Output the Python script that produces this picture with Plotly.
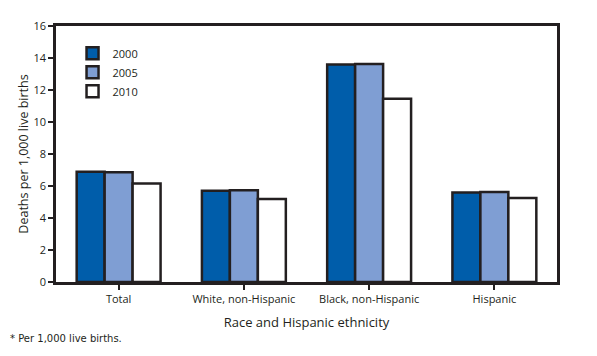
import plotly.graph_objects as go

categories = ["Total", "White, non-Hispanic", "Black, non-Hispanic", "Hispanic"]
years = ["2000", "2005", "2010"]
values_2000 = [6.89, 5.70, 13.59, 5.59]
values_2005 = [6.86, 5.73, 13.63, 5.62]
values_2010 = [6.15, 5.18, 11.46, 5.25]
colors = ["#005DAA", "#7F9ED3", "#FFFFFF"]
y_ticks = [0, 2, 4, 6, 8, 10, 12, 14, 16]

series = [values_2000, values_2005, values_2010]
fig = go.Figure()
for name, vals, col in zip(years, series, colors):
    fig.add_trace(go.Bar(
        x=categories, y=vals, name=name,
        marker=dict(color=col, line=dict(color="#231F20", width=2.5)),
    ))

font_family = "Open Sans, Liberation Sans, sans-serif"
# page body has an 8px default margin, so the figure is shrunk by 8px
fig.update_layout(
    width=589, height=348,
    margin=dict(l=48, r=40, t=18, b=74),
    paper_bgcolor="white", plot_bgcolor="white",
    barmode="group", bargap=0.33, bargroupgap=0,
    font=dict(family=font_family, size=11, color="#231F20"),
    showlegend=True,
    legend=dict(x=0.033, y=0.95, xanchor="left", yanchor="top",
                bgcolor="rgba(0,0,0,0)", font=dict(size=11),
                itemwidth=30, tracegroupgap=0),
    annotations=[dict(text="* Per 1,000 live births.", x=-0.0958, y=-0.219,
                      xref="paper", yref="paper", xanchor="left", yanchor="middle",
                      showarrow=False,
                      font=dict(size=10, family="DejaVu Sans, Verdana, sans-serif"))],
)
fig.update_xaxes(
    automargin=False,
    showline=True, linecolor="#231F20", linewidth=2.5, mirror=True,
    ticks="outside", ticklen=5, tickwidth=2, tickcolor="#231F20",
    title=dict(text="Race and Hispanic ethnicity", font=dict(size=13), standoff=13),
    range=[-0.5, 3.5],
)
fig.update_yaxes(
    automargin=False,
    range=[0, 16], tickvals=y_ticks, showgrid=False, zeroline=False,
    showline=True, linecolor="#231F20", linewidth=2.5, mirror=True,
    ticks="outside", ticklen=5, tickwidth=2, tickcolor="#231F20",
    title=dict(text="Deaths per 1,000 live births", font=dict(size=12.5), standoff=3),
)
fig.write_html("out.html")
